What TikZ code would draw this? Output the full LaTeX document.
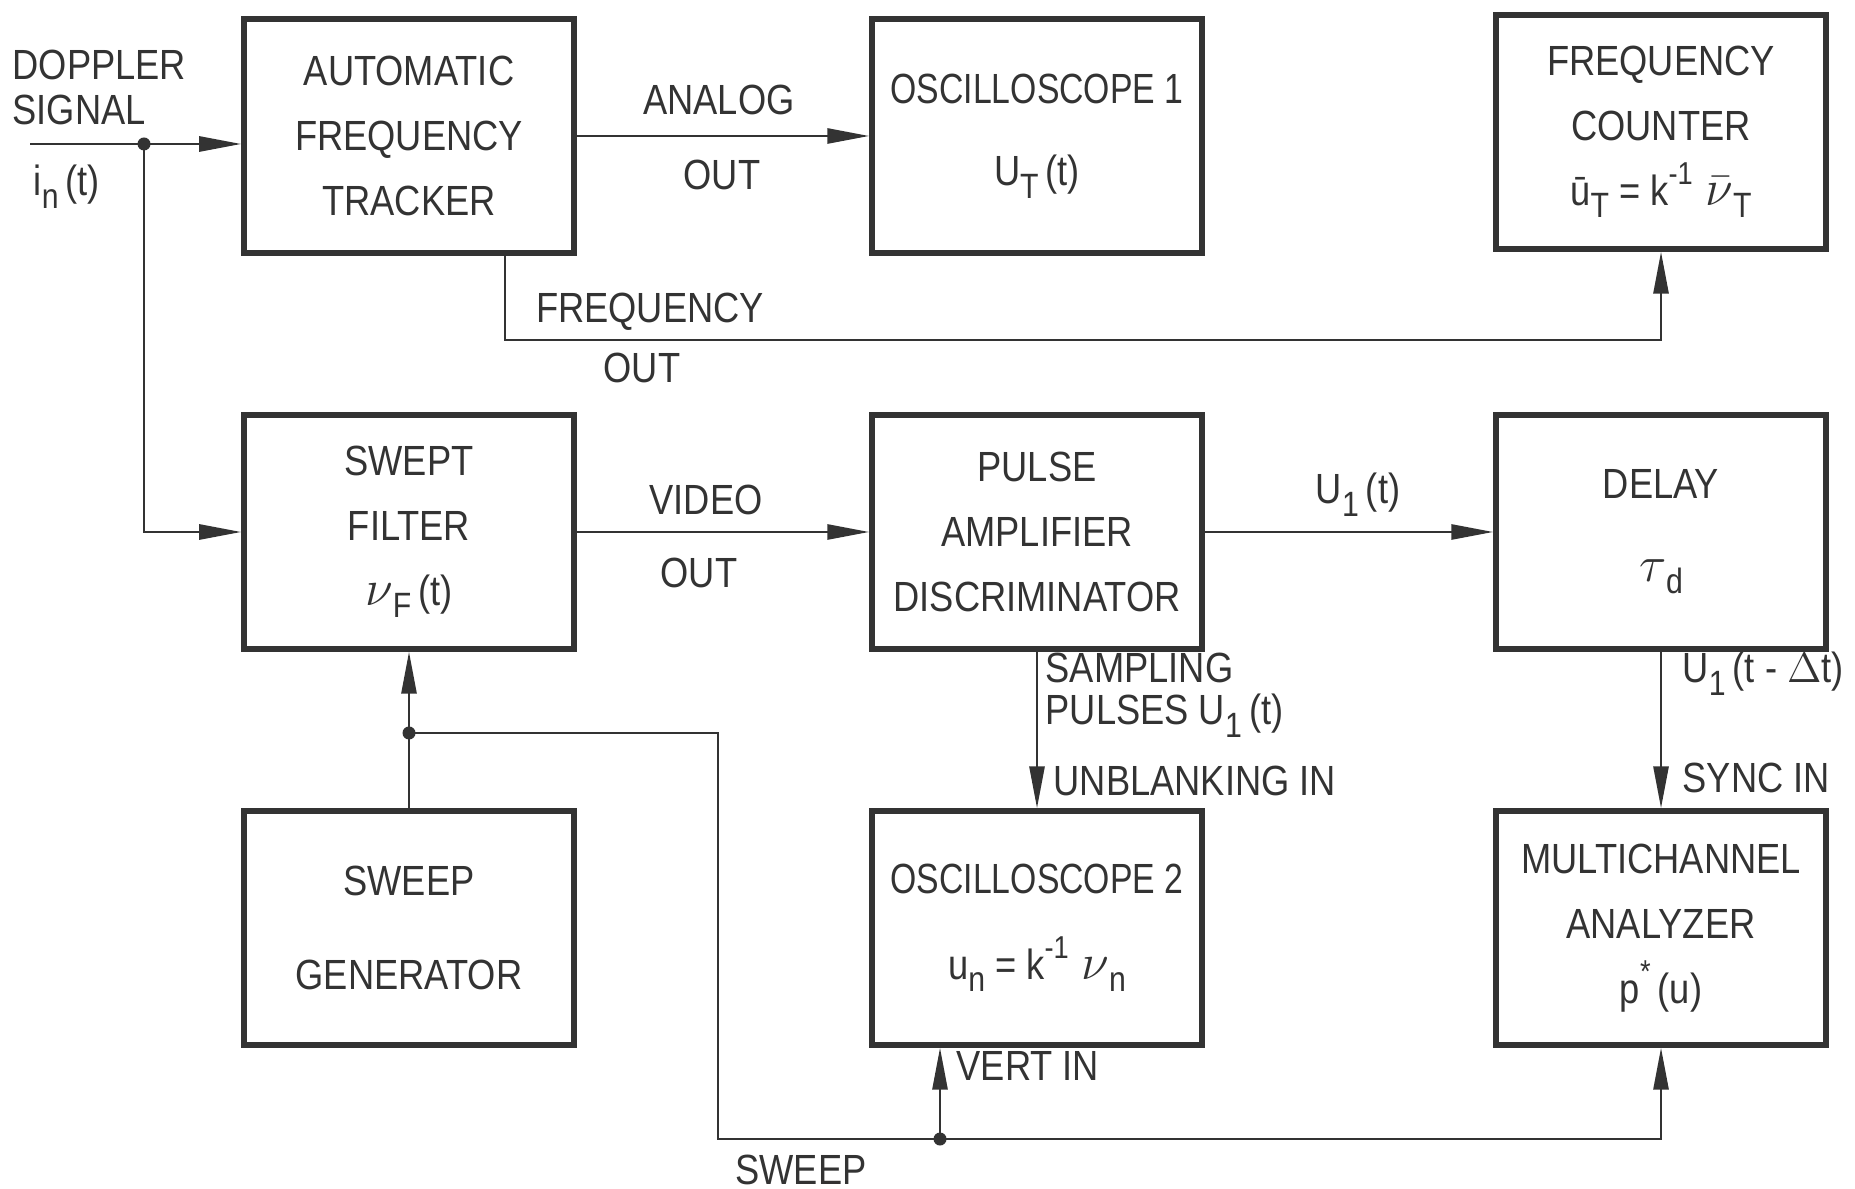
\documentclass[tikz,border=0pt]{standalone}
\usepackage{fontspec}
\setmainfont[FakeStretch=0.86]{Liberation Sans}
\newfontfamily\condfont[FakeStretch=0.8]{Liberation Sans}
\usetikzlibrary{arrows.meta,positioning,calc}
\definecolor{ink}{HTML}{333333}
\newcommand{\lsub}[1]{\raisebox{-0.55ex}{\fontsize{10}{10}\selectfont #1}}
\newcommand{\lsup}[1]{\raisebox{0.95ex}{\fontsize{9}{9}\selectfont #1}}
\newcommand{\gnu}{{\fontsize{15}{15}\selectfont$\nu$}}
\newcommand{\gnubar}{{\fontsize{15}{15}\selectfont$\bar{\nu}$}}
\tikzset{
    blk/.style={draw=ink, line width=1.5pt, minimum width=3.3cm, minimum height=2.34cm,
        align=center, inner sep=0pt, text=ink, font=\fontsize{12}{18.5}\selectfont},
    lbl/.style={inner sep=0pt, text=ink, font=\fontsize{12}{14}\selectfont},
    wire/.style={draw=ink, line width=0.8pt},
    arr/.style={wire, -{Triangle[length=0.42cm,width=0.15cm]}},
    junc/.style={circle, fill=ink, inner sep=0pt, minimum size=0.13cm},
}

\begin{document}
\begin{tikzpicture}[x=0.01cm, y=-0.01cm]
    \useasboundingbox (0,0) rectangle (1855,1189);

    \node[blk] (aft) at (409,136) {AUTOMATIC\\FREQUENCY\\TRACKER};
    \node[blk] (osc1) at (1037,136) {{\condfont OSCILLOSCOPE 1}\\[5pt]U\lsub{T}\,(t)};
    \node[blk] (fc) at (1661,132) {FREQUENCY\\COUNTER\\\=u\lsub{T} = k\lsup{-1}\hspace{0.3em}\gnubar\lsub{T}};

    \node[blk] (sf) at (409,532) {SWEPT\\FILTER\\\gnu\lsub{F}\,(t)};
    \node[blk] (pad) at (1037,532) {PULSE\\AMPLIFIER\\DISCRIMINATOR};
    \node[blk] (dly) at (1661,532) {DELAY\\[5pt]{\fontsize{15}{15}\selectfont$\tau$}\lsub{d}};

    \node[blk] (sg) at (409,928) {SWEEP\\[8pt]GENERATOR};
    \node[blk] (osc2) at (1037,928) {{\condfont OSCILLOSCOPE 2}\\[6pt]u\lsub{n} = k\lsup{-1}\hspace{0.3em}\gnu\lsub{n}};
    \node[blk] (mca) at (1661,928) {MULTICHANNEL\\ANALYZER\\p\lsup{*}\,(u)};

    \coordinate (din) at (30,144);
    \node[junc] (split) at (144,144) {};
    \draw[arr] (din) -- (din -| aft.west);
    \draw[arr] (split.center) |- (sf.west);
    \draw[arr] (aft) -- (osc1.west |- aft);
    \coordinate (fout) at (505,340);
    \draw[arr] (aft.south -| fout) -- (fout) -| (fc.south);

    \draw[arr] (sf) -- (pad);
    \draw[arr] (pad) -- (dly);
    \draw[arr] (pad.south) -- (osc2.north);
    \draw[arr] (dly.south) -- (mca.north);

    \node[junc] (tap) at (409,733) {};
    \draw[arr] (sg.north) -- (sf.south);
    \coordinate (swc) at (718,1139);
    \node[junc] (vtap) at (940,1139) {};
    \draw[arr] (tap.center) -| (swc) -| (mca.south);
    \draw[arr] (vtap.center) -- (vtap |- osc2.south);

    \node[lbl, anchor=base west] (dopp) at (12,80) {DOPPLER};
    \node[lbl, anchor=base west] (sig) at (12,125) {SIGNAL};
    \node[lbl, anchor=base west] (inp) at (33,196) {i\lsub{n}\,(t)};
    \node[lbl, anchor=base] (ana) at (719,115) {ANALOG};
    \node[lbl, anchor=base] (aout) at (722,190) {OUT};
    \node[lbl, anchor=base] (freq) at (650,323) {FREQUENCY};
    \node[lbl, anchor=base] (fqout) at (642,383) {OUT};
    \node[lbl, anchor=base] (vid) at (706,515) {VIDEO};
    \node[lbl, anchor=base] (vout) at (699,588) {OUT};
    \node[lbl, anchor=base] (uone) at (1358,504) {U\lsub{1}\,(t)};
    \node[lbl, anchor=base west] (samp) at (1045,683) {SAMPLING};
    \node[lbl, anchor=base west] (puls) at (1045,725) {PULSES U\lsub{1}\,(t)};
    \node[lbl, anchor=base west] (unbl) at (1053,796) {UNBLANKING IN};
    \node[lbl, anchor=base west] (udel) at (1682,683) {U\lsub{1}\,(t - $\Delta$t)};
    \node[lbl, anchor=base west] (sync) at (1682,792) {SYNC IN};
    \node[lbl, anchor=base west] (vert) at (956,1080) {VERT IN};
    \node[lbl, anchor=base] (swp) at (801,1184) {SWEEP};
\end{tikzpicture}
\end{document}
